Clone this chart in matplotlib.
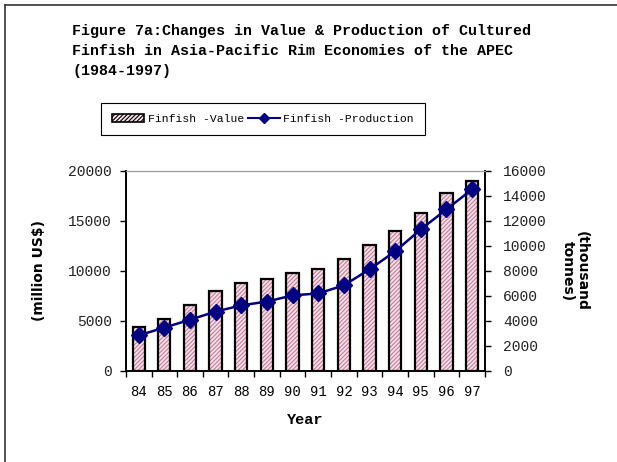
import numpy as np
import matplotlib.pyplot as plt
from matplotlib.patches import Patch
from matplotlib.lines import Line2D

years = ['84', '85', '86', '87', '88', '89', '90', '91', '92', '93', '94', '95', '96', '97']
value = [4400, 5200, 6600, 8000, 8800, 9200, 9800, 10200, 11200, 12600, 14000, 15800, 17800, 19000]
production = [2850, 3470, 4100, 4750, 5250, 5550, 6050, 6200, 6850, 8130, 9570, 11330, 12930, 14530]

mono = 'Liberation Mono'
plt.rcParams['hatch.linewidth'] = 0.8

fig = plt.figure(figsize=(6.17, 4.62), dpi=100)
ax = fig.add_axes([0.204, 0.197, 0.582, 0.433])
ax2 = ax.twinx()

x = np.arange(len(years))
pink = '#c87a98'
ax.bar(x, value, width=0.48, color='#f4e2ea', edgecolor=pink, hatch='////////', lw=0, zorder=1)
ax.bar(x, value, width=0.48, facecolor='none', edgecolor='black', lw=1.6, zorder=2)

ax2.plot(x, production, color='#000080', lw=1.8, marker='D', markersize=8, zorder=3)

ax.set_xlim(-0.5, len(years) - 0.5)
ax.set_ylim(0, 20000)
ax2.set_ylim(0, 16000)
ax.set_yticks(np.arange(0, 20001, 5000))
ax2.set_yticks(np.arange(0, 16001, 2000))
ax.set_xticks(x)
ax.set_xticklabels(years, fontfamily=mono, fontsize=10)
ax.set_xticks(np.arange(-0.5, len(years), 1), minor=True)
ax.tick_params(axis='x', which='major', length=0, pad=10)
ax.tick_params(axis='x', which='minor', length=4, direction='out', width=1)
ax.tick_params(axis='y', length=4, width=1, direction='out', pad=6)
ax2.tick_params(axis='y', length=4, width=1, direction='out', pad=9)
for lab in ax.get_yticklabels() + ax2.get_yticklabels():
    lab.set_fontfamily(mono)
    lab.set_fontsize(10.5)
    lab.set_color('#222222')

for a in (ax, ax2):
    a.spines['left'].set_linewidth(1.2)
    a.spines['right'].set_linewidth(1.2)
    a.spines['bottom'].set_linewidth(1.2)
    a.spines['top'].set_color('#999999')
    a.spines['top'].set_linewidth(0.8)

ax.set_ylabel('(million US$)', fontsize=10, fontweight='black', fontfamily='DejaVu Sans', labelpad=16)
ax2.set_ylabel('(thousand\ntonnes)', fontsize=10, fontweight='black', fontfamily='DejaVu Sans',
               rotation=270, labelpad=30, linespacing=1.0)
ax.set_xlabel('Year', fontsize=11, fontweight='bold', fontfamily=mono, labelpad=10)

fig.text(0.117, 0.949, 'Figure 7a:Changes in Value & Production of Cultured\n'
         'Finfish in Asia-Pacific Rim Economies of the APEC\n(1984-1997)',
         fontsize=10.8, fontweight='bold', fontfamily=mono, va='top', ha='left', linespacing=1.55)

handles = [Patch(facecolor='#f4e2ea', edgecolor='black', hatch='////////', lw=1.2),
           Line2D([], [], color='#000080', lw=1.5, marker='D', markersize=5)]
leg = fig.legend(handles, ['Finfish -Value', 'Finfish -Production'], loc='center',
                 bbox_to_anchor=(263 / 617, 1 - 119 / 462), ncol=2, fancybox=False,
                 edgecolor='black', framealpha=1, prop={'family': mono, 'size': 8.2},
                 handlelength=2.8, columnspacing=0.35, handletextpad=0.3, borderpad=0.95,
                 borderaxespad=0)
leg.get_frame().set_linewidth(0.8)

# figure border (top and left only)
fig.add_artist(Line2D([5 / 617, 5 / 617], [0, 1 - 5 / 462], color='#333333', lw=1.2))
fig.add_artist(Line2D([5 / 617, 1], [1 - 5 / 462, 1 - 5 / 462], color='#333333', lw=1.2))

fig.savefig('out.png', dpi=100)
